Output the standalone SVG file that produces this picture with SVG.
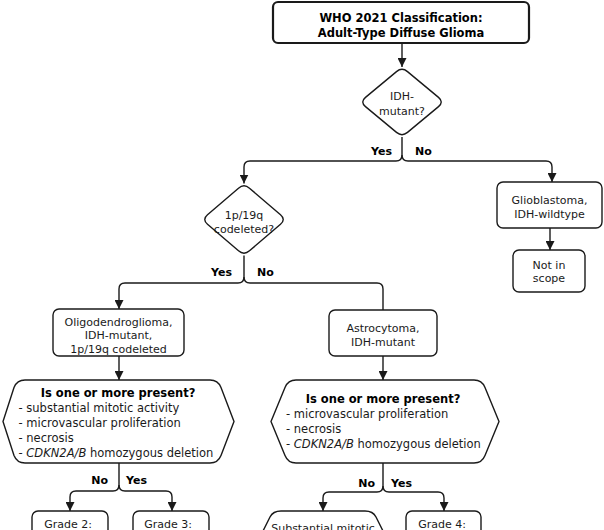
<svg xmlns="http://www.w3.org/2000/svg" width="604" height="530" viewBox="0 0 604 530">
<style>
.box{fill:#fff;stroke:#1a1a1a;stroke-width:1.4}
.title{fill:#fff;stroke:#1a1a1a;stroke-width:2.2}
.t{font-family:"DejaVu Sans",Verdana,sans-serif;font-size:11px;fill:#1a1a1a;text-anchor:middle}
.b{font-family:"DejaVu Sans",Verdana,sans-serif;font-size:11.5px;font-weight:bold;fill:#000;text-anchor:middle}
.l{font-family:"DejaVu Sans",Verdana,sans-serif;font-size:11.5px;fill:#1a1a1a}
.lab{font-family:"DejaVu Sans",Verdana,sans-serif;font-size:11px;font-weight:bold;fill:#000}
.c{fill:none;stroke:#1a1a1a;stroke-width:1.4}
.a{marker-end:url(#arr)}
</style>
<defs>
<marker id="arr" markerUnits="userSpaceOnUse" markerWidth="9" markerHeight="9" refX="9" refY="4.5" orient="auto">
<path d="M0,0 L9,4.5 L0,9 Z" fill="#1a1a1a"/>
</marker>
</defs>
<g id="connectors">
<path class="c a" d="M402,43 L402,67"/>
<path class="c" d="M402,137 L402,155 Q402,161 396,161 L250,161 Q244,161 244,167 L244,183.5" marker-end="url(#arr)"/>
<path class="c a" d="M402,155 Q402,161 408,161 L546,161 Q552,161 552,167 L552,182"/>
<path class="c a" d="M550,228 L550,250"/>
<path class="c a" d="M244,255.5 L244,277 Q244,283 238,283 L125,283 Q119,283 119,289 L119,309"/>
<path class="c a" d="M244,277 Q244,283 250,283 L377,283 Q383,283 383,289 L383,322"/>
<path class="c a" d="M119,356 L119,380"/>
<path class="c a" d="M383,356 L383,380"/>
<path class="c a" d="M119,463 L119,485 Q119,491 113,491 L76,491 Q70,491 70,497 L70,511"/>
<path class="c a" d="M119,485 Q119,491 125,491 L166,491 Q172,491 172,497 L172,511"/>
<path class="c a" d="M383,463 L383,486 Q383,492 377,492 L329,492 Q323,492 323,498 L323,511"/>
<path class="c a" d="M383,486 Q383,492 389,492 L438,492 Q444,492 444,498 L444,511"/>
</g>
<g id="labels">
<text class="lab" x="392" y="155" text-anchor="end">Yes</text>
<text class="lab" x="415" y="155">No</text>
<text class="lab" x="232" y="276" text-anchor="end">Yes</text>
<text class="lab" x="257" y="276">No</text>
<text class="lab" x="108" y="484" text-anchor="end">No</text>
<text class="lab" x="126" y="484">Yes</text>
<text class="lab" x="375" y="487" text-anchor="end">No</text>
<text class="lab" x="391" y="487">Yes</text>
</g>
<g id="n-title">
<rect class="title" x="273" y="2" width="256" height="41" rx="5"/>
<text class="b" x="401" y="22">WHO 2021 Classification:</text>
<text class="b" x="401" y="37">Adult-Type Diffuse Glioma</text>
</g>
<g id="n-idh">
<path class="box" d="M396.5,71.6 Q402,67 407.5,71.6 L438.5,97.4 Q444,102 438.5,106.6 L407.5,132.4 Q402,137 396.5,132.4 L365.5,106.6 Q360,102 365.5,97.4 Z"/>
<text class="t" x="402" y="100">IDH-</text>
<text class="t" x="402" y="115">mutant?</text>
</g>
<g id="n-codel">
<path class="box" d="M238.5,188.2 Q244,183.5 249.5,188.2 L280.5,214.8 Q286,219.5 280.5,224.2 L249.5,250.8 Q244,255.5 238.5,250.8 L207.5,224.2 Q202,219.5 207.5,214.8 Z"/>
<text class="t" x="244" y="218.5">1p/19q</text>
<text class="t" x="244" y="232.5">codeleted?</text>
</g>
<g id="n-gbm">
<rect class="box" x="497" y="182" width="105" height="46" rx="6"/>
<text class="t" x="549.5" y="204">Glioblastoma,</text>
<text class="t" x="549.5" y="218">IDH-wildtype</text>
</g>
<g id="n-scope">
<rect class="box" x="513" y="250" width="72" height="42" rx="6"/>
<text class="t" x="549" y="268.5">Not in</text>
<text class="t" x="549" y="282">scope</text>
</g>
<g id="n-oligo">
<rect class="box" x="53" y="309" width="131" height="47" rx="6"/>
<text class="t" x="118.5" y="325.5">Oligodendroglioma,</text>
<text class="t" x="118.5" y="339">IDH-mutant,</text>
<text class="t" x="118.5" y="352.5">1p/19q codeleted</text>
</g>
<g id="n-astro">
<rect class="box" x="329" y="310" width="108" height="46" rx="6"/>
<text class="t" x="383" y="332">Astrocytoma,</text>
<text class="t" x="383" y="346">IDH-mutant</text>
</g>
<g id="n-oligo-q">
<path class="box" d="M25,380 L210,380 Q218,380 221,387.5 L234,421.5 L221,455.5 Q218,463 210,463 L25,463 Q17,463 14,455.5 L3,421.5 L14,387.5 Q17,380 25,380 Z"/>
<text class="b" x="118" y="397">Is one or more present?</text>
<text class="l" x="18.5" y="412">- substantial mitotic activity</text>
<text class="l" x="18.5" y="427">- microvascular proliferation</text>
<text class="l" x="18.5" y="442">- necrosis</text>
<text class="l" x="18.5" y="457">- <tspan font-style="italic">CDKN2A/B</tspan> homozygous deletion</text>
</g>
<g id="n-astro-q">
<path class="box" d="M296,380 L474,380 Q482,380 485,387.5 L499,421.5 L485,455.5 Q482,463 474,463 L296,463 Q288,463 285,455.5 L271,421.5 L285,387.5 Q288,380 296,380 Z"/>
<text class="b" x="383" y="403">Is one or more present?</text>
<text class="l" x="286" y="418">- microvascular proliferation</text>
<text class="l" x="286" y="433">- necrosis</text>
<text class="l" x="286" y="448">- <tspan font-style="italic">CDKN2A/B</tspan> homozygous deletion</text>
</g>
<g id="n-grade2">
<rect class="box" x="32" y="511" width="76" height="40" rx="6"/>
<text class="t" x="68" y="528">Grade 2:</text>
</g>
<g id="n-grade3">
<rect class="box" x="133" y="511" width="76" height="40" rx="6"/>
<text class="t" x="168" y="528">Grade 3:</text>
</g>
<g id="n-mitotic">
<path class="box" d="M281,511 L365,511 Q373,511 376,517 L390,545 L256,545 L270,517 Q273,511 281,511 Z"/>
<text class="t" x="323" y="532">Substantial mitotic</text>
</g>
<g id="n-grade4">
<rect class="box" x="406" y="511" width="75" height="40" rx="6"/>
<text class="t" x="442" y="528">Grade 4:</text>
</g>
</svg>
